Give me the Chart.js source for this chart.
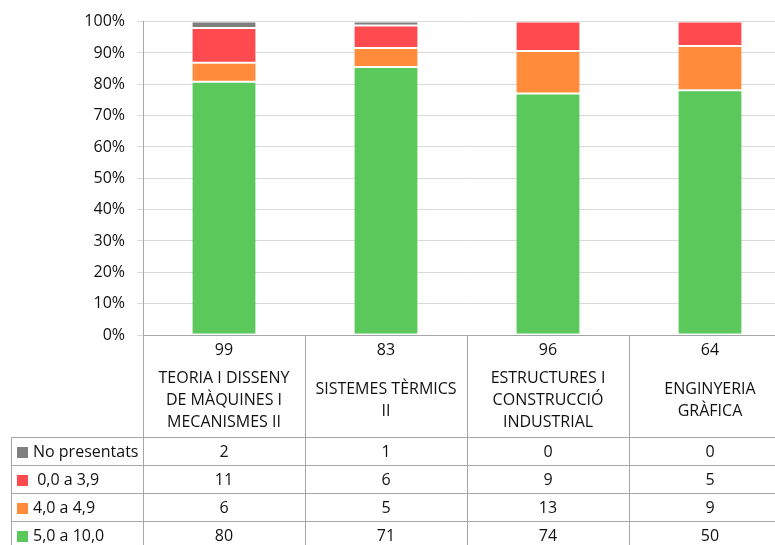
<!DOCTYPE html>
<html>
<head>
<meta charset="utf-8">
<script src="https://cdn.jsdelivr.net/npm/chart.js@4.4.1/dist/chart.umd.min.js"></script>
<style>
    html, body { margin: 0; padding: 0; background: #fff; overflow: hidden; }
</style>
</head>
<body>
<canvas id="chart" width="800" height="560"></canvas>
<script>
// categories (subjects) and number of students per subject
const categories = [
    [ 'TEORIA I DISSENY', 'DE MÀQUINES I', 'MECANISMES II' ],
    [ 'SISTEMES TÈRMICS', 'II' ],
    [ 'ESTRUCTURES I', 'CONSTRUCCIÓ', 'INDUSTRIAL' ],
    [ 'ENGINYERIA', 'GRÀFICA' ]
];
const totals = [ 99, 83, 96, 64 ];

// counts per grade band (same order as categories)
const noPresentats = [ 2, 1, 0, 0 ];
const suspens      = [ 11, 6, 9, 5 ];
const quatre       = [ 6, 5, 13, 9 ];
const aprovats     = [ 80, 71, 74, 50 ];

const seriesLabels = [ 'No presentats', ' 0,0 a 3,9', '4,0 a 4,9', '5,0 a 10,0' ];
const seriesColors = [ '#7f7f7f', '#ff4b4f', '#ff8b3b', '#5ac85a' ];
const yTicks = [ 0, 10, 20, 30, 40, 50, 60, 70, 80, 90, 100 ];

const FONT = '"Open Sans", sans-serif';
const TEXT = '#111';
const LINE = '#a6a6a6';

function share( arr ) {
    return arr.map( function ( v, i ) { return v / totals[ i ] * 100; } );
}

// table rows, top to bottom
const tableRows = [ noPresentats, suspens, quatre, aprovats ];

const tablePlugin = {
    id: 'dataTable',
    afterDraw: function ( chart ) {
        const ctx   = chart.ctx;
        const x     = chart.scales.x;
        const area  = chart.chartArea;
        const n     = categories.length;
        const colW  = ( area.right - area.left ) / n;
        const rowH  = 28;
        const tTop  = area.bottom + 102;
        const tLeft = 11;
        const tBot  = tTop + rowH * tableRows.length;

        ctx.save();
        ctx.strokeStyle = LINE;
        ctx.lineWidth = 1;

        // x axis line
        ctx.beginPath();
        ctx.moveTo( area.left, area.bottom + 0.5 );
        ctx.lineTo( area.right, area.bottom + 0.5 );
        ctx.stroke();

        // column separators
        for ( let i = 0; i <= n; i++ ) {
            const px = Math.round( area.left + i * colW ) + 0.5;
            ctx.beginPath();
            ctx.moveTo( px, area.bottom );
            ctx.lineTo( px, tBot );
            ctx.stroke();
        }

        // table row lines
        for ( let r = 0; r <= tableRows.length; r++ ) {
            const py = tTop + r * rowH + 0.5;
            ctx.beginPath();
            ctx.moveTo( tLeft, py );
            ctx.lineTo( area.right, py );
            ctx.stroke();
        }
        ctx.beginPath();
        ctx.moveTo( tLeft + 0.5, tTop );
        ctx.lineTo( tLeft + 0.5, tBot );
        ctx.stroke();

        ctx.fillStyle = TEXT;
        ctx.font = '16px ' + FONT;
        ctx.textAlign = 'center';
        ctx.textBaseline = 'middle';

        // totals and category names
        categories.forEach( function ( lines, i ) {
            const cx = x.getPixelForValue( i );
            ctx.fillText( String( totals[ i ] ), cx, area.bottom + 15 );
            const lh = 22;
            const mid = area.bottom + 65;
            const start = mid - ( lines.length - 1 ) * lh / 2;
            lines.forEach( function ( line, k ) {
                ctx.fillText( line, cx, start + k * lh );
            } );
        } );

        // table body
        tableRows.forEach( function ( row, r ) {
            const cy = tTop + r * rowH + rowH / 2 + 1;
            row.forEach( function ( v, i ) {
                ctx.fillText( String( v ), x.getPixelForValue( i ), cy );
            } );
            ctx.fillStyle = seriesColors[ r ];
            ctx.fillRect( 17, cy - 5, 11, 11 );
            ctx.fillStyle = TEXT;
            ctx.textAlign = 'left';
            ctx.fillText( seriesLabels[ r ], 33, cy );
            ctx.textAlign = 'center';
        } );

        ctx.restore();
    }
};

// stacked from the bottom: 5-10, 4-4.9, 0-3.9, no presentats
const datasets = [ 3, 2, 1, 0 ].map( function ( r ) {
    return {
        label: seriesLabels[ r ],
        data: share( tableRows[ r ] ),
        backgroundColor: seriesColors[ r ],
        borderColor: 'rgba(255,255,255,0.25)',
        borderWidth: 1,
        borderSkipped: false,
        categoryPercentage: 1,
        barPercentage: 0.4
    };
} );

new Chart( document.getElementById( 'chart' ).getContext( '2d' ), {
    type: 'bar',
    data: {
        labels: categories.map( function ( c ) { return c.join( ' ' ); } ),
        datasets: datasets
    },
    options: {
        responsive: false,
        animation: false,
        layout: {
            padding: { left: 0, right: 9, top: 20, bottom: 225 }
        },
        plugins: {
            legend: { display: false },
            tooltip: { enabled: false }
        },
        scales: {
            x: {
                display: false,
                stacked: true
            },
            y: {
                stacked: true,
                min: 0,
                max: 100,
                afterFit: function ( scale ) { scale.width = 143; },
                afterBuildTicks: function ( scale ) {
                    scale.ticks = yTicks.map( function ( v ) { return { value: v }; } );
                },
                ticks: {
                    padding: 12,
                    color: TEXT,
                    font: { family: FONT, size: 16 },
                    callback: function ( v ) { return v + '%'; }
                },
                grid: {
                    color: '#d9d9d9',
                    tickLength: 6
                },
                border: { color: LINE }
            }
        }
    },
    plugins: [ tablePlugin ]
} );
</script>
</body>
</html>
